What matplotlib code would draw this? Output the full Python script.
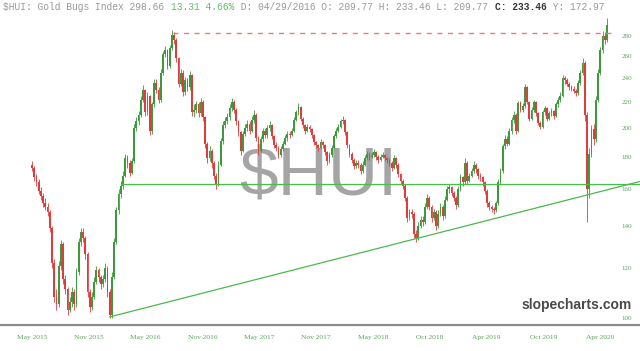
import numpy as np
import matplotlib
matplotlib.use("Agg")
import matplotlib.pyplot as plt
from matplotlib.ticker import FixedLocator, NullLocator

# ---------------- data (weekly candles, May 2015 -> Apr 2020) ----------------
first_open = 175
close = [173, 167, 164, 159, 156, 152, 150, 147, 139, 122, 108, 105, 121,
         131, 115, 111, 103, 106, 110, 105, 118, 132, 137, 134, 126, 110, 104,
         108, 114, 119, 116, 113, 115, 120, 110, 101, 116, 132, 148, 157, 162,
         168, 179, 176, 170, 177, 200, 205, 210, 222, 230, 212, 225, 198, 218,
         236, 230, 222, 245, 262, 266, 251, 268, 281, 276, 258, 235, 245, 228,
         238, 232, 243, 212, 214, 218, 211, 220, 208, 189, 179, 184, 176, 168,
         163, 175, 191, 202, 205, 208, 215, 220, 214, 205, 197, 184, 196, 200,
         203, 198, 206, 210, 193, 184, 192, 198, 195, 200, 202, 194, 188, 186,
         181, 185, 189, 193, 196, 195, 198, 206, 212, 216, 207, 202, 198, 201,
         199, 195, 190, 188, 186, 190, 188, 183, 177, 181, 186, 194, 198, 201,
         205, 206, 197, 188, 182, 178, 174, 176, 175, 171, 175, 179, 182, 180,
         181, 183, 180, 178, 180, 181, 179, 178, 176, 173, 179, 175, 169, 165,
         162, 155, 144, 147, 146, 136, 134, 140, 143, 142, 150, 155, 150, 144,
         147, 140, 146, 150, 145, 154, 160, 161, 158, 155, 151, 160, 167, 164,
         176, 165, 168, 171, 175, 172, 168, 167, 164, 159, 152, 150, 149, 148,
         152, 164, 171, 187, 192, 189, 198, 206, 210, 198, 219, 214, 217, 232,
         220, 207, 214, 220, 211, 204, 201, 212, 215, 207, 211, 213, 209, 218,
         222, 225, 240, 238, 235, 232, 231, 229, 227, 236, 245, 254, 210, 160,
         182, 199, 192, 222, 245, 266, 280, 276, 292]
high = [177, 174, 169, 166, 161, 158, 155, 152, 148, 140, 124, 111, 123,
        133, 132, 117, 112, 108, 112, 111, 120, 134, 139, 139, 135, 127, 111,
        110, 116, 121, 120, 117, 117, 122, 121, 111, 118, 134, 150, 160, 165,
        171, 182, 181, 178, 179, 203, 208, 213, 225, 234, 231, 228, 226, 220,
        239, 239, 232, 248, 265, 270, 267, 271, 286, 284, 278, 259, 248, 247,
        241, 240, 246, 244, 218, 221, 220, 223, 222, 209, 190, 187, 185, 177,
        170, 177, 193, 205, 208, 211, 218, 223, 222, 215, 206, 198, 198, 203,
        206, 205, 209, 214, 211, 194, 194, 200, 200, 202, 205, 203, 195, 190,
        187, 187, 191, 195, 198, 198, 200, 208, 214, 219, 217, 208, 203, 203,
        202, 200, 196, 191, 189, 192, 191, 189, 184, 183, 188, 196, 200, 203,
        207, 209, 207, 198, 189, 183, 179, 178, 178, 176, 177, 181, 184, 183,
        183, 185, 184, 181, 182, 183, 182, 180, 179, 177, 181, 180, 176, 170,
        166, 163, 156, 149, 149, 147, 138, 142, 145, 145, 152, 157, 156, 151,
        149, 148, 148, 152, 151, 156, 162, 163, 162, 159, 156, 162, 169, 168,
        179, 177, 170, 173, 177, 176, 173, 170, 168, 165, 160, 153, 151, 150,
        153, 166, 173, 189, 195, 194, 200, 208, 213, 211, 221, 221, 219, 235,
        233, 221, 216, 222, 221, 212, 205, 214, 217, 216, 213, 215, 214, 220,
        224, 228, 243, 242, 240, 237, 234, 233, 231, 238, 247, 258, 256, 212,
        186, 202, 203, 225, 248, 269, 285, 284, 299]
low = [171, 165, 162, 157, 154, 150, 148, 145, 137, 120, 106, 103, 104,
       119, 113, 109, 101, 102, 104, 103, 104, 117, 130, 132, 124, 108, 102,
       103, 107, 113, 114, 111, 112, 114, 108, 100, 100, 115, 131, 146, 155,
       160, 167, 173, 168, 169, 176, 198, 202, 208, 220, 209, 210, 195, 196,
       216, 227, 219, 220, 243, 259, 248, 249, 266, 272, 255, 232, 233, 225,
       226, 229, 230, 209, 208, 211, 208, 209, 205, 186, 176, 177, 173, 166,
       160, 162, 174, 189, 200, 203, 206, 213, 211, 202, 194, 181, 183, 194,
       198, 196, 197, 204, 191, 181, 183, 190, 193, 193, 198, 192, 186, 184,
       179, 180, 184, 188, 191, 193, 194, 197, 205, 210, 205, 200, 196, 197,
       197, 193, 188, 186, 184, 185, 186, 181, 175, 176, 180, 185, 193, 197,
       200, 203, 195, 186, 180, 176, 172, 173, 173, 169, 170, 174, 178, 178,
       179, 180, 178, 176, 177, 179, 177, 176, 174, 171, 172, 173, 167, 163,
       160, 153, 142, 143, 144, 134, 132, 133, 139, 140, 141, 149, 148, 142,
       143, 138, 139, 145, 143, 144, 153, 158, 156, 153, 149, 150, 159, 162,
       163, 163, 164, 167, 170, 170, 166, 165, 162, 157, 150, 148, 147, 146,
       147, 151, 163, 170, 185, 187, 188, 196, 204, 196, 197, 212, 212, 215,
       218, 205, 206, 212, 209, 202, 199, 200, 210, 205, 206, 209, 207, 208,
       216, 220, 224, 235, 233, 230, 229, 227, 225, 226, 234, 243, 205, 142,
       155, 180, 188, 190, 220, 243, 263, 272, 274]

tick_labels = ["May 2015", "Nov 2015", "May 2016", "Nov 2016", "May 2017",
               "Nov 2017", "May 2018", "Oct 2018", "Apr 2019", "Oct 2019",
               "Apr 2020"]
y_ticks = [100, 120, 140, 160, 180, 200, 220, 240, 260, 280]

support_level = 163.0          # horizontal green line
support_from_week = 40
resistance_level = 283.4       # red dashed line (2016 high)
resistance_from_week = 63.5
trend_weeks = [35, 250]        # rising trend line anchors
trend_values = [100.3, 156.6]

header_parts = [
    ("$HUI: Gold Bugs Index 298.66 ", "#9a9a9a", "normal"),
    ("13.31 4.66%", "#66bb66", "normal"),
    (" D: 04/29/2016 O: 209.77 H: 233.46 L: 209.77 ", "#9a9a9a", "normal"),
    ("C: 233.46", "#333333", "bold"),
    (" Y: 172.97", "#9a9a9a", "normal"),
]
watermark = "$HUI"
site = "slopecharts.com"

# ---------------- figure ----------------
W, H, DPI = 640, 351, 100
fig = plt.figure(figsize=(W / DPI, H / DPI), dpi=DPI)
ax_bottom_px, ax_top_px = 325, 15
ax = fig.add_axes([0, (H - ax_bottom_px) / H, 1, (ax_bottom_px - ax_top_px) / H])

close = np.array(close, dtype=float)
high = np.array(high, dtype=float)
low = np.array(low, dtype=float)
opn = np.concatenate([[first_open], close[:-1]])
idx = np.arange(len(close))

green, red = "#3c9a3c", "#e23b3b"
colors = np.where(close >= opn, green, red)

ax.set_yscale("log")
px_per_week = 2.22
x0_px = 32
ax.set_xlim(-x0_px / px_per_week, (W - x0_px) / px_per_week)
y100_px, px_per_log = 317.7, 273.6
ax.set_ylim(100 * np.exp((y100_px - ax_bottom_px) / px_per_log),
            100 * np.exp((y100_px - ax_top_px) / px_per_log))

# watermark
ax.text(0.497, 0.42, watermark, transform=ax.transAxes, ha="center",
        va="baseline", fontsize=50, color="#a5a5a5", family="Liberation Sans",
        zorder=0)

# candles
ax.vlines(idx, low, high, colors=colors, linewidth=0.6, zorder=2)
ax.bar(idx, np.abs(close - opn), bottom=np.minimum(close, opn), width=0.8,
       color=colors, linewidth=0, zorder=3)

# lines
xmax = ax.get_xlim()[1]
ax.plot([support_from_week, xmax], [support_level, support_level],
        color="#46c046", lw=0.9, zorder=4)
ax.plot([resistance_from_week, len(close) + 1.5],
        [resistance_level, resistance_level], color="#e87a7a", lw=1.0,
        dashes=(3.6, 4.0), zorder=4)
slope = (np.log(trend_values[1]) - np.log(trend_values[0])) / (trend_weeks[1] - trend_weeks[0])
tx = np.array([trend_weeks[0], xmax])
ty = trend_values[0] * np.exp(slope * (tx - trend_weeks[0]))
ax.plot(tx, ty, color="#4cb84c", lw=0.9, zorder=4)

# axes styling
for s in ["top", "left", "right"]:
    ax.spines[s].set_visible(False)
ax.spines["bottom"].set_color("#8c8c8c")
ax.spines["bottom"].set_linewidth(1.6)

label_green = "#5aa55a"
ax.xaxis.set_major_locator(FixedLocator(np.arange(len(tick_labels)) * 25.6))
ax.set_xticklabels(tick_labels)
ax.tick_params(axis="x", length=0, pad=7.5, labelsize=5.4, labelcolor=label_green)
for t in ax.get_xticklabels():
    t.set_family("Liberation Serif")

ax.yaxis.set_ticks_position("right")
ax.yaxis.set_major_locator(FixedLocator(y_ticks))
ax.yaxis.set_minor_locator(NullLocator())
ax.set_yticklabels([str(v) for v in y_ticks])
ax.tick_params(axis="y", which="both", length=0, pad=-13.5, labelsize=5,
               labelcolor=label_green)
for t in ax.get_yticklabels():
    t.set_family("Liberation Serif")

# header (monospace pieces placed one after another)
fs = 6.95
char_px = 0.6 * fs / 72 * DPI
pos = 0
for txt, col, wt in header_parts:
    fig.text((3 + pos * char_px) / W, 1 - 7.5 / H, txt, color=col,
             fontweight=wt, fontsize=fs, family="Liberation Mono",
             ha="left", va="center")
    pos += len(txt)

fig.text(577 / W, 1 - 305 / H, site, ha="center", va="center", fontsize=10,
         fontweight="bold", color="#4a4a4a", family="Liberation Sans")

fig.savefig("out.png", dpi=DPI)
